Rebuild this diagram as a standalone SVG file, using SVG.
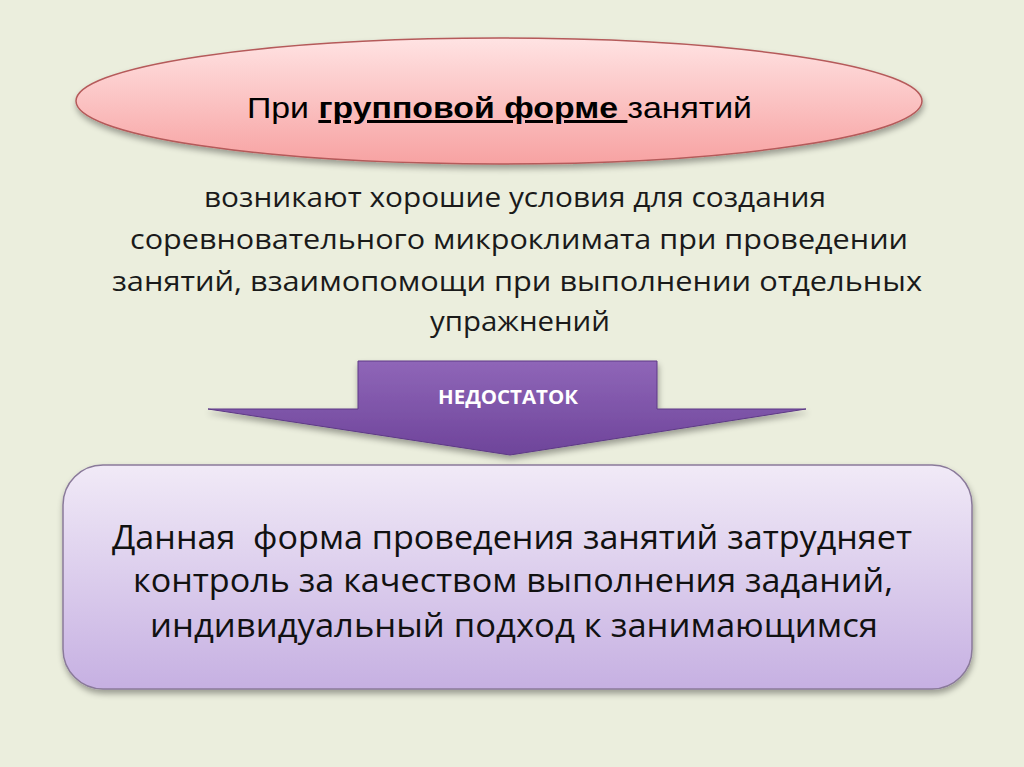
<svg xmlns="http://www.w3.org/2000/svg" width="1024" height="767" viewBox="0 0 1024 767">
<defs>
<linearGradient id="gPink" x1="0" y1="0" x2="0" y2="1">
<stop offset="0" stop-color="#FFE3E3"/>
<stop offset="1" stop-color="#F7A2A2"/>
</linearGradient>
<linearGradient id="gArrow" x1="0" y1="0" x2="0" y2="1">
<stop offset="0" stop-color="#8F66B8"/>
<stop offset="1" stop-color="#6E449A"/>
</linearGradient>
<linearGradient id="gBox" x1="0" y1="0" x2="0" y2="1">
<stop offset="0" stop-color="#F1EAF7"/>
<stop offset="1" stop-color="#C6B0E2"/>
</linearGradient>
<filter id="sh" x="-10%" y="-10%" width="120%" height="130%">
<feGaussianBlur in="SourceAlpha" stdDeviation="3"/>
<feOffset dx="1" dy="4" result="b"/>
<feComponentTransfer><feFuncA type="linear" slope="0.35"/></feComponentTransfer>
<feMerge><feMergeNode/><feMergeNode in="SourceGraphic"/></feMerge>
</filter>
<style>
.t{font-family:"Liberation Sans Narrow","Liberation Sans",Arial,sans-serif;font-size:30px;fill:#000}
.b{font-family:"Open Sans","Noto Sans",sans-serif;font-size:28px;fill:#1A1A1A;text-anchor:middle}
.x{font-family:"Open Sans","Noto Sans",sans-serif;font-size:33px;fill:#111;text-anchor:middle;white-space:pre}
.w{font-family:"Open Sans","Noto Sans",sans-serif;font-size:19px;font-weight:bold;fill:#fff;text-anchor:middle}
</style>
</defs>
<rect width="1024" height="767" fill="#EBEEDD"/>
<g id="top">
<ellipse cx="499" cy="101" rx="423" ry="63" fill="url(#gPink)" stroke="#B55A5A" stroke-width="1.5" filter="url(#sh)"/>
<text class="t" x="247" y="118" textLength="505" lengthAdjust="spacingAndGlyphs">При <tspan font-weight="bold" text-decoration="underline">групповой форме </tspan>занятий</text>
</g>
<g id="desc">
<text class="b" x="515" y="207" textLength="622" lengthAdjust="spacingAndGlyphs">возникают хорошие условия для создания</text>
<text class="b" x="519" y="249" textLength="778" lengthAdjust="spacingAndGlyphs">соревновательного микроклимата при проведении</text>
<text class="b" x="517" y="291" textLength="810" lengthAdjust="spacingAndGlyphs">занятий, взаимопомощи при выполнении отдельных</text>
<text class="b" x="520" y="331" textLength="180" lengthAdjust="spacingAndGlyphs">упражнений</text>
</g>
<g id="arrow">
<polygon points="358,361 657,361 657,409 806,409 510,455 208,409 358,409" fill="url(#gArrow)" stroke="#5E3A86" stroke-width="1" filter="url(#sh)"/>
<text class="w" x="508" y="404" textLength="140" lengthAdjust="spacingAndGlyphs">НЕДОСТАТОК</text>
</g>
<g id="box">
<rect x="63" y="465" width="909" height="224" rx="40" fill="url(#gBox)" stroke="#8A7A9A" stroke-width="1.5" filter="url(#sh)"/>
<text class="x" x="512" y="549" textLength="800" lengthAdjust="spacingAndGlyphs">Данная  форма проведения занятий затрудняет</text>
<text class="x" x="513" y="592" textLength="760" lengthAdjust="spacingAndGlyphs">контроль за качеством выполнения заданий,</text>
<text class="x" x="514" y="637" textLength="728" lengthAdjust="spacingAndGlyphs">индивидуальный подход к занимающимся</text>
</g>
</svg>
